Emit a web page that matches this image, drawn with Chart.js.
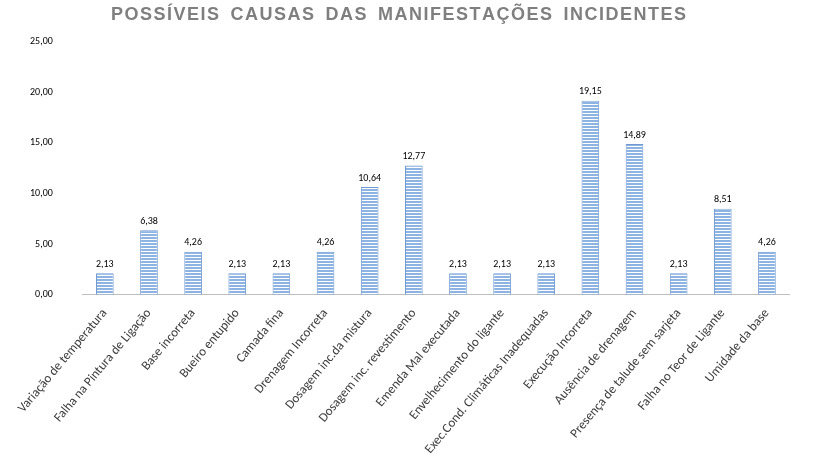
<!DOCTYPE html>
<html><head><meta charset="utf-8">
<script src="https://cdn.jsdelivr.net/npm/chart.js@4"></script>
<style>html,body{margin:0;background:#fff}#w{width:819px;height:460px}</style>
</head><body><div id="w"><canvas id="c"></canvas></div>
<script>
const categories=["Variação de temperatura","Falha na Pintura de Ligação","Base incorreta","Bueiro entupido","Camada fina","Drenagem Incorreta","Dosagem inc.da mistura","Dosagem inc. revestimento","Emenda Mal executada","Envelhecimento do ligante","Exec.Cond. Climáticas Inadequadas","Execução Incorreta","Ausência de drenagem","Presença de talude sem sarjeta","Falha no Teor de Ligante","Umidade da base"];
const values=[2.13,6.38,4.26,2.13,2.13,4.26,10.64,12.77,2.13,2.13,2.13,19.15,14.89,2.13,8.51,4.26];
const pc=document.createElement('canvas');pc.width=4;pc.height=3;
const px=pc.getContext('2d');px.fillStyle='#8db3e2';px.fillRect(0,0,4,2);px.fillStyle='#ffffff';px.fillRect(0,2,4,1);
const pat=px.createPattern(pc,'repeat');
const fmt=v=>v.toFixed(2).replace('.',',');
const labelsPlugin={id:'lbl',afterDatasetsDraw(ch){const ctx=ch.ctx;ctx.save();ctx.font='10px Calibri, Carlito, "Liberation Sans", sans-serif';ctx.fillStyle='#000';ctx.textAlign='center';ctx.textBaseline='bottom';
ch.getDatasetMeta(0).data.forEach((b,i)=>ctx.fillText(fmt(values[i]),b.x,b.y-4));ctx.restore();}};
new Chart(document.getElementById('c'),{type:'bar',data:{labels:categories,datasets:[{data:values,backgroundColor:pat,borderColor:'#6f9bd1',borderWidth:1,barPercentage:0.4,categoryPercentage:1}]},
options:{responsive:true,maintainAspectRatio:false,animation:false,layout:{padding:{left:8,right:30,top:0,bottom:0}},
plugins:{legend:{display:false},tooltip:{enabled:false},title:{display:true,text:'P O S S Í V E I S   C A U S A S   D A S   M A N I F E S T A Ç Õ E S   I N C I D E N T E S'.replace(/ (?! )/g,'\u200A'),color:'#7f7f7f',font:{size:18,weight:'bold',family:'"Liberation Sans", sans-serif'},padding:{top:4,bottom:16}}},
scales:{y:{min:0,max:25,ticks:{stepSize:5,callback:v=>fmt(v),color:'#000',font:{size:10,family:'Calibri, Carlito, "Liberation Sans", sans-serif'},padding:22},grid:{display:false},border:{display:false}},
x:{ticks:{minRotation:50,maxRotation:50,color:'#404040',font:{size:13,family:'Calibri, Carlito, "Liberation Sans", sans-serif'},autoSkip:false},grid:{display:false},border:{color:'#bfbfbf'}}}},
plugins:[labelsPlugin]});
</script></body></html>
